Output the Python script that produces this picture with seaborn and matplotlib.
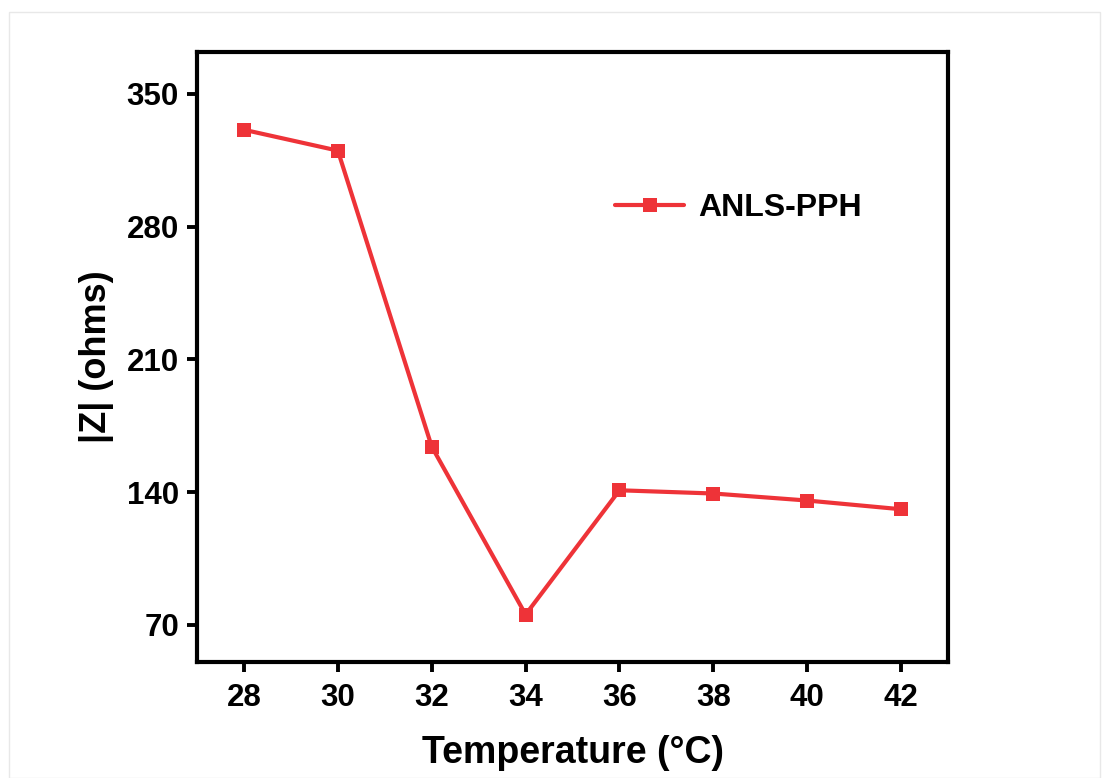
import matplotlib
matplotlib.use("Agg")
import matplotlib.pyplot as plt
import seaborn as sns
import pandas as pd
from matplotlib.patches import Rectangle

temperature = [28, 30, 32, 34, 36, 38, 40, 42]
impedance = [331, 320, 164, 75.5, 141, 139.3, 135.6, 131]
series_name = "ANLS-PPH"
x_ticks = [28, 30, 32, 34, 36, 38, 40, 42]
y_ticks = [70, 140, 210, 280, 350]

sns.set_theme(style="white")
plt.rcParams['font.family'] = ['Liberation Sans', 'DejaVu Sans']
plt.rcParams['font.weight'] = 'bold'
plt.rcParams['text.color'] = 'black'
plt.rcParams['axes.labelcolor'] = 'black'
plt.rcParams['xtick.color'] = 'black'
plt.rcParams['ytick.color'] = 'black'

df = pd.DataFrame({"Temperature": temperature, "Z": impedance, "series": series_name})

fig = plt.figure(figsize=(11.02, 7.78), dpi=100)
fig.patches.append(Rectangle((0.008, 0.0), 0.99, 0.985, transform=fig.transFigure,
                             fill=False, edgecolor="#e8e8e8", linewidth=1))
ax = fig.add_axes([0.1788, 0.1491, 0.6815, 0.7841])

red = "#EE3338"
sns.lineplot(data=df, x="Temperature", y="Z", hue="series", palette=[red],
             marker="s", markersize=10, markeredgewidth=0, linewidth=3, ax=ax)

ax.set_xlim(27, 43)
ax.set_ylim(50.5, 372)
ax.set_xticks(x_ticks)
ax.set_yticks(y_ticks)
ax.tick_params(axis="x", which="major", direction="out", length=7, width=2.8,
               labelsize=22.5, bottom=True, top=False, pad=8, colors="black")
ax.tick_params(axis="y", which="major", direction="out", length=7, width=2.8,
               labelsize=22.5, left=True, right=False, pad=6, colors="black")
for lab in ax.get_xticklabels() + ax.get_yticklabels():
    lab.set_fontweight("bold")
for sp in ax.spines.values():
    sp.set_linewidth(3)
    sp.set_color("black")

ax.set_xlabel("Temperature (°C)", fontsize=27, fontweight="bold", labelpad=16, color="black")
ax.set_ylabel("|Z| (ohms)", fontsize=26, fontweight="bold", labelpad=9, color="black")

leg = ax.legend(loc="center left", bbox_to_anchor=(0.557, 0.744), frameon=False,
                handlelength=2.15, handletextpad=0.45,
                borderpad=0, borderaxespad=0, prop={"weight": "bold", "size": 23})
for t in leg.get_texts():
    t.set_color("black")
ax.grid(False)

fig.savefig("out.png", dpi=100)
